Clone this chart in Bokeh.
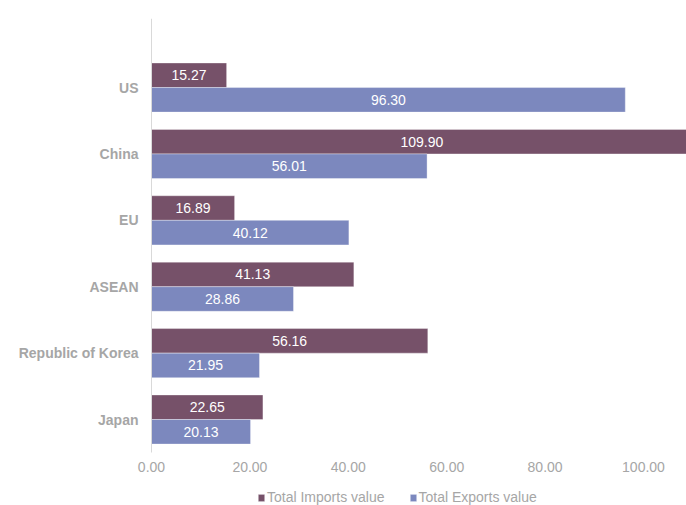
from bokeh.plotting import figure
from bokeh.models import Range1d, FixedTicker, NumeralTickFormatter, Legend, LegendItem, ColumnDataSource, LabelSet
from bokeh.core.properties import value
from bokeh.embed import file_html
from bokeh.resources import INLINE

categories = ["US", "China", "EU", "ASEAN", "Republic of Korea", "Japan"]
imports_value = [15.27, 109.90, 16.89, 41.13, 56.16, 22.65]
exports_value = [96.30, 56.01, 40.12, 28.86, 21.95, 20.13]
x_ticks = [0, 20, 40, 60, 80, 100]

IMP_COLOR = "#765169"
EXP_COLOR = "#7C88BE"
GRAY = "#A6A6A6"
FONT = "Liberation Sans"

n = len(categories)
pos = [n - 1 - i for i in range(n)]  # US at top
bar_h = 0.37
y_lo, y_hi = -0.497, 6.04          # extent of the category axis
y_floor = -1.295                   # room below for tick labels + legend
x_left, x_right = -30.69, 108.74   # room on the left for category labels

src = ColumnDataSource(dict(
    y_imp=[p_ + bar_h / 2 for p_ in pos],
    y_exp=[p_ - bar_h / 2 for p_ in pos],
    imp=imports_value,
    exp=exports_value,
    imp_mid=[v / 2 for v in imports_value],
    exp_mid=[v / 2 for v in exports_value],
    imp_txt=["%.2f" % v for v in imports_value],
    exp_txt=["%.2f" % v for v in exports_value],
))

p = figure(width=686, height=505, output_backend="svg", toolbar_location=None,
           x_range=Range1d(x_left, x_right), y_range=Range1d(y_floor, y_hi))
p.min_border_left = 0
p.min_border_right = 0
p.min_border_top = 18
p.min_border_bottom = 0
p.outline_line_color = None
p.xgrid.visible = False
p.ygrid.visible = False

r_imp = p.hbar(y="y_imp", right="imp", left=0, height=bar_h, source=src,
               fill_color=IMP_COLOR, line_color="#FFFFFF", line_alpha=0.35, line_width=1)
r_exp = p.hbar(y="y_exp", right="exp", left=0, height=bar_h, source=src,
               fill_color=EXP_COLOR, line_color="#FFFFFF", line_alpha=0.35, line_width=1)

for ycol, xcol, tcol in (("y_imp", "imp_mid", "imp_txt"), ("y_exp", "exp_mid", "exp_txt")):
    p.add_layout(LabelSet(x=xcol, y=ycol, text=tcol, source=src, text_color="white",
                          text_font=value(FONT), text_font_size="14px",
                          text_align="center", text_baseline="middle"))

# y axis (drawn at x = 0)
p.yaxis.fixed_location = 0
p.yaxis.ticker = FixedTicker(ticks=pos)
p.yaxis.major_label_overrides = {p_: c for p_, c in zip(pos, categories)}
p.yaxis.bounds = (y_lo, y_hi)
p.yaxis.axis_line_color = "#D9D9D9"
p.yaxis.major_tick_line_color = None
p.yaxis.minor_tick_line_color = None
p.yaxis.major_label_standoff = 7
p.yaxis.major_label_text_font = FONT
p.yaxis.major_label_text_font_style = "bold"
p.yaxis.major_label_text_font_size = "14px"
p.yaxis.major_label_text_color = GRAY

# x axis (drawn at the bottom of the category axis)
p.xaxis.fixed_location = y_lo
p.xaxis.ticker = FixedTicker(ticks=x_ticks)
p.xaxis.formatter = NumeralTickFormatter(format="0.00")
p.xaxis.axis_line_color = None
p.xaxis.major_tick_line_color = None
p.xaxis.minor_tick_line_color = None
p.xaxis.major_label_standoff = 3
p.xaxis.major_label_text_font = FONT
p.xaxis.major_label_text_font_size = "14px"
p.xaxis.major_label_text_color = GRAY

legend = Legend(items=[LegendItem(label="Total Imports value", renderers=[r_imp]),
                       LegendItem(label="Total Exports value", renderers=[r_exp])],
                orientation="horizontal", location=(257, 0),
                glyph_width=8, glyph_height=9, label_height=16, label_standoff=2, spacing=24,
                padding=0, margin=0, border_line_color=None, background_fill_alpha=0,
                label_text_font=FONT, label_text_font_size="14px", label_text_color=GRAY)
p.add_layout(legend, "center")

open("out.html", "w").write(file_html(p, INLINE))
